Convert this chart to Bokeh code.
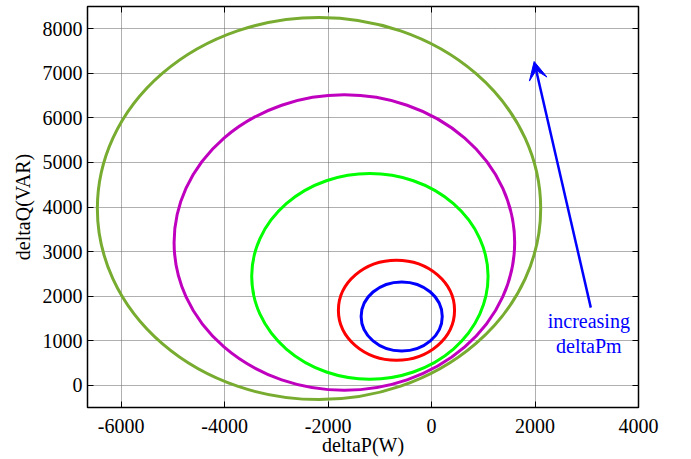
from bokeh.plotting import figure
from bokeh.models import LinearAxis, FixedTicker, Range1d, Arrow, VeeHead, ColumnDataSource
from bokeh.core.properties import value
from bokeh.embed import file_html
from bokeh.resources import INLINE

# ---- data ----
x_ticks = [-6000, -4000, -2000, 0, 2000, 4000]
x_tick_labels = ["-6000", "-4000", "-2000", "0", "2000", "4000"]
y_ticks = [0, 1000, 2000, 3000, 4000, 5000, 6000, 7000, 8000]
y_tick_labels = ["0", "1000", "2000", "3000", "4000", "5000", "6000", "7000", "8000"]

# closed P-Q trajectories (centre, full width in P, full height in Q)
curve_colors = ["#77AC30", "#BF00BF", "#00FF00", "#FF0000", "#0000FF"]
center_p = [-2175, -1685, -1192, -678, -577]
center_q = [3965, 3203, 2443, 1683, 1545]
width_p = [8569, 6583, 4569, 2245, 1568]
height_q = [8576, 6630, 4616, 2245, 1549]

arrow_start = (3078, 1742)
arrow_end = (1983, 7265)
note_text = ["increasing\ndeltaPm"]
note_p = [3040]
note_q = [1160]

FONT = "Liberation Serif"

p = figure(width=691, height=459,
           x_range=Range1d(-6650, 4000), y_range=Range1d(-500, 8500),
           output_backend="svg", toolbar_location=None,
           min_border_left=87, min_border_right=53, min_border_top=6, min_border_bottom=52,
           x_axis_label="deltaP(W)", y_axis_label="deltaQ(VAR)")

p.background_fill_color = "white"
p.border_fill_color = "white"
p.outline_line_color = "black"
p.outline_line_width = 1.5

xt = FixedTicker(ticks=x_ticks)
yt = FixedTicker(ticks=y_ticks)
p.xaxis.ticker = xt
p.yaxis.ticker = yt
p.xaxis.major_label_overrides = {t: s for t, s in zip(x_ticks, x_tick_labels)}
p.yaxis.major_label_overrides = {t: s for t, s in zip(y_ticks, y_tick_labels)}

for ax in (p.xaxis, p.yaxis):
    ax.major_label_text_font = FONT
    ax.major_label_text_font_size = "20px"
    ax.major_label_text_color = "black"
    ax.axis_label_text_font = FONT
    ax.axis_label_text_font_size = "20px"
    ax.axis_label_text_font_style = "normal"
    ax.axis_label_text_color = "black"
    ax.major_tick_in = 6
    ax.major_tick_out = 0
    ax.minor_tick_line_color = None
    ax.axis_line_color = "black"
    ax.major_tick_line_color = "black"

p.xaxis.major_label_standoff = 11
p.xaxis.axis_label_standoff = -2
p.yaxis.major_label_standoff = 5
p.yaxis.axis_label_standoff = 6

top = LinearAxis(ticker=xt, major_label_text_font_size="1px", major_label_text_color=None,
                 major_tick_in=6, major_tick_out=0,
                 minor_tick_line_color=None, axis_line_color=None, major_label_standoff=0)
right = LinearAxis(ticker=yt, major_label_text_font_size="1px", major_label_text_color=None,
                   major_tick_in=6, major_tick_out=0,
                   minor_tick_line_color=None, axis_line_color=None, major_label_standoff=0)
p.add_layout(top, "above")
p.add_layout(right, "right")

p.xgrid.ticker = xt
p.ygrid.ticker = yt
for g in (p.xgrid, p.ygrid):
    g.grid_line_color = "#606060"
    g.grid_line_dash = "1 1"
    g.grid_line_width = 1

src = ColumnDataSource(dict(x=center_p, y=center_q, w=width_p, h=height_q, c=curve_colors))
p.ellipse(x="x", y="y", width="w", height="h", source=src,
          fill_color=None, line_color="c", line_width=3)

p.add_layout(Arrow(end=VeeHead(size=18, fill_color="#0000FF", fill_alpha=1.0,
                               line_color="#0000FF", line_width=1),
                   x_start=arrow_start[0], y_start=arrow_start[1],
                   x_end=arrow_end[0], y_end=arrow_end[1],
                   line_color="#0000FF", line_width=2.5))

p.text(x=note_p, y=note_q, text=note_text, text_font=value(FONT), text_font_size="20px",
       text_color="#0000FF", text_align="center", text_baseline="middle", text_line_height=1.1)

open("out.html", "w").write(file_html(p, INLINE))
